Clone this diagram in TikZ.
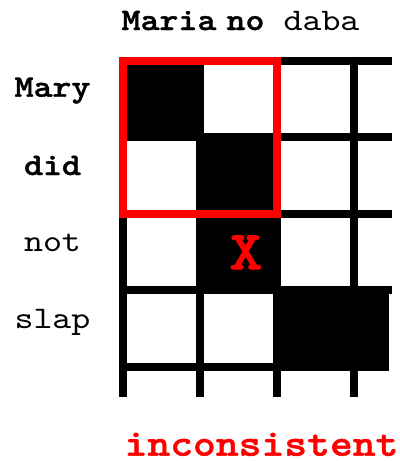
\documentclass[tikz,border=0pt]{standalone}
\usepackage{fontspec}
\setmonofont{lmmono10-regular.otf}[BoldFont=lmmonolt10-bold.otf, BoldFeatures={FakeBold=1.2}, FakeStretch=1.15]

\begin{document}
\begin{tikzpicture}[x=0.5pt, y=-0.5pt,
	word/.style={anchor=base, inner sep=0pt, font=\ttfamily\fontsize{15.7}{16}\selectfont},
	bword/.style={word, font=\ttfamily\bfseries\fontsize{15.7}{16}\selectfont},
	grid line/.style={line width=4pt}]
	\useasboundingbox (0,0) rectangle (400,461);
	% black cells
	\fill (119,56.5) rectangle (204,141.1);
	\fill (196,133.1) rectangle (281,217.7);
	\fill (196,209.7) rectangle (281,294.3);
	\fill (273,286.3) rectangle (388.5,370.9);
	% grid
	\draw[grid line] (123,56.5) -- (123,397);
	\draw[grid line] (200,56.5) -- (200,397);
	\draw[grid line] (277,56.5) -- (277,397);
	\draw[grid line] (354,56.5) -- (354,397);
	\draw[grid line] (119,60.5) -- (392,60.5);
	\draw[grid line] (119,137.1) -- (392,137.1);
	\draw[grid line] (119,213.7) -- (392,213.7);
	\draw[grid line] (119,290.3) -- (392,290.3);
	\draw[grid line] (119,366.9) -- (388,366.9);
	\draw[grid line, red] (123,60.5) rectangle (277,213.7);
	% words
	\node[bword] (maria) at (169,30) {Maria};
	\node[bword] (no) at (245.5,30) {no};
	\node[word] (daba) at (321.5,30) {daba};
	\node[bword] (mary) at (52.5,96.7) {Mary};
	\node[bword] (did) at (52.5,175) {did};
	\node[word] (not) at (52.5,251.7) {not};
	\node[word] (slap) at (52.5,328) {slap};
	\node[anchor=base, inner sep=0pt, red, font=\ttfamily\bfseries\fontsize{27.6}{28}\selectfont] (cross) at (246,269.3) {X};
	\node[anchor=base, inner sep=0pt, red, font=\ttfamily\bfseries\fontsize{18.9}{19}\selectfont] (verdict) at (261.5,455.7) {inconsistent};
\end{tikzpicture}
\end{document}
